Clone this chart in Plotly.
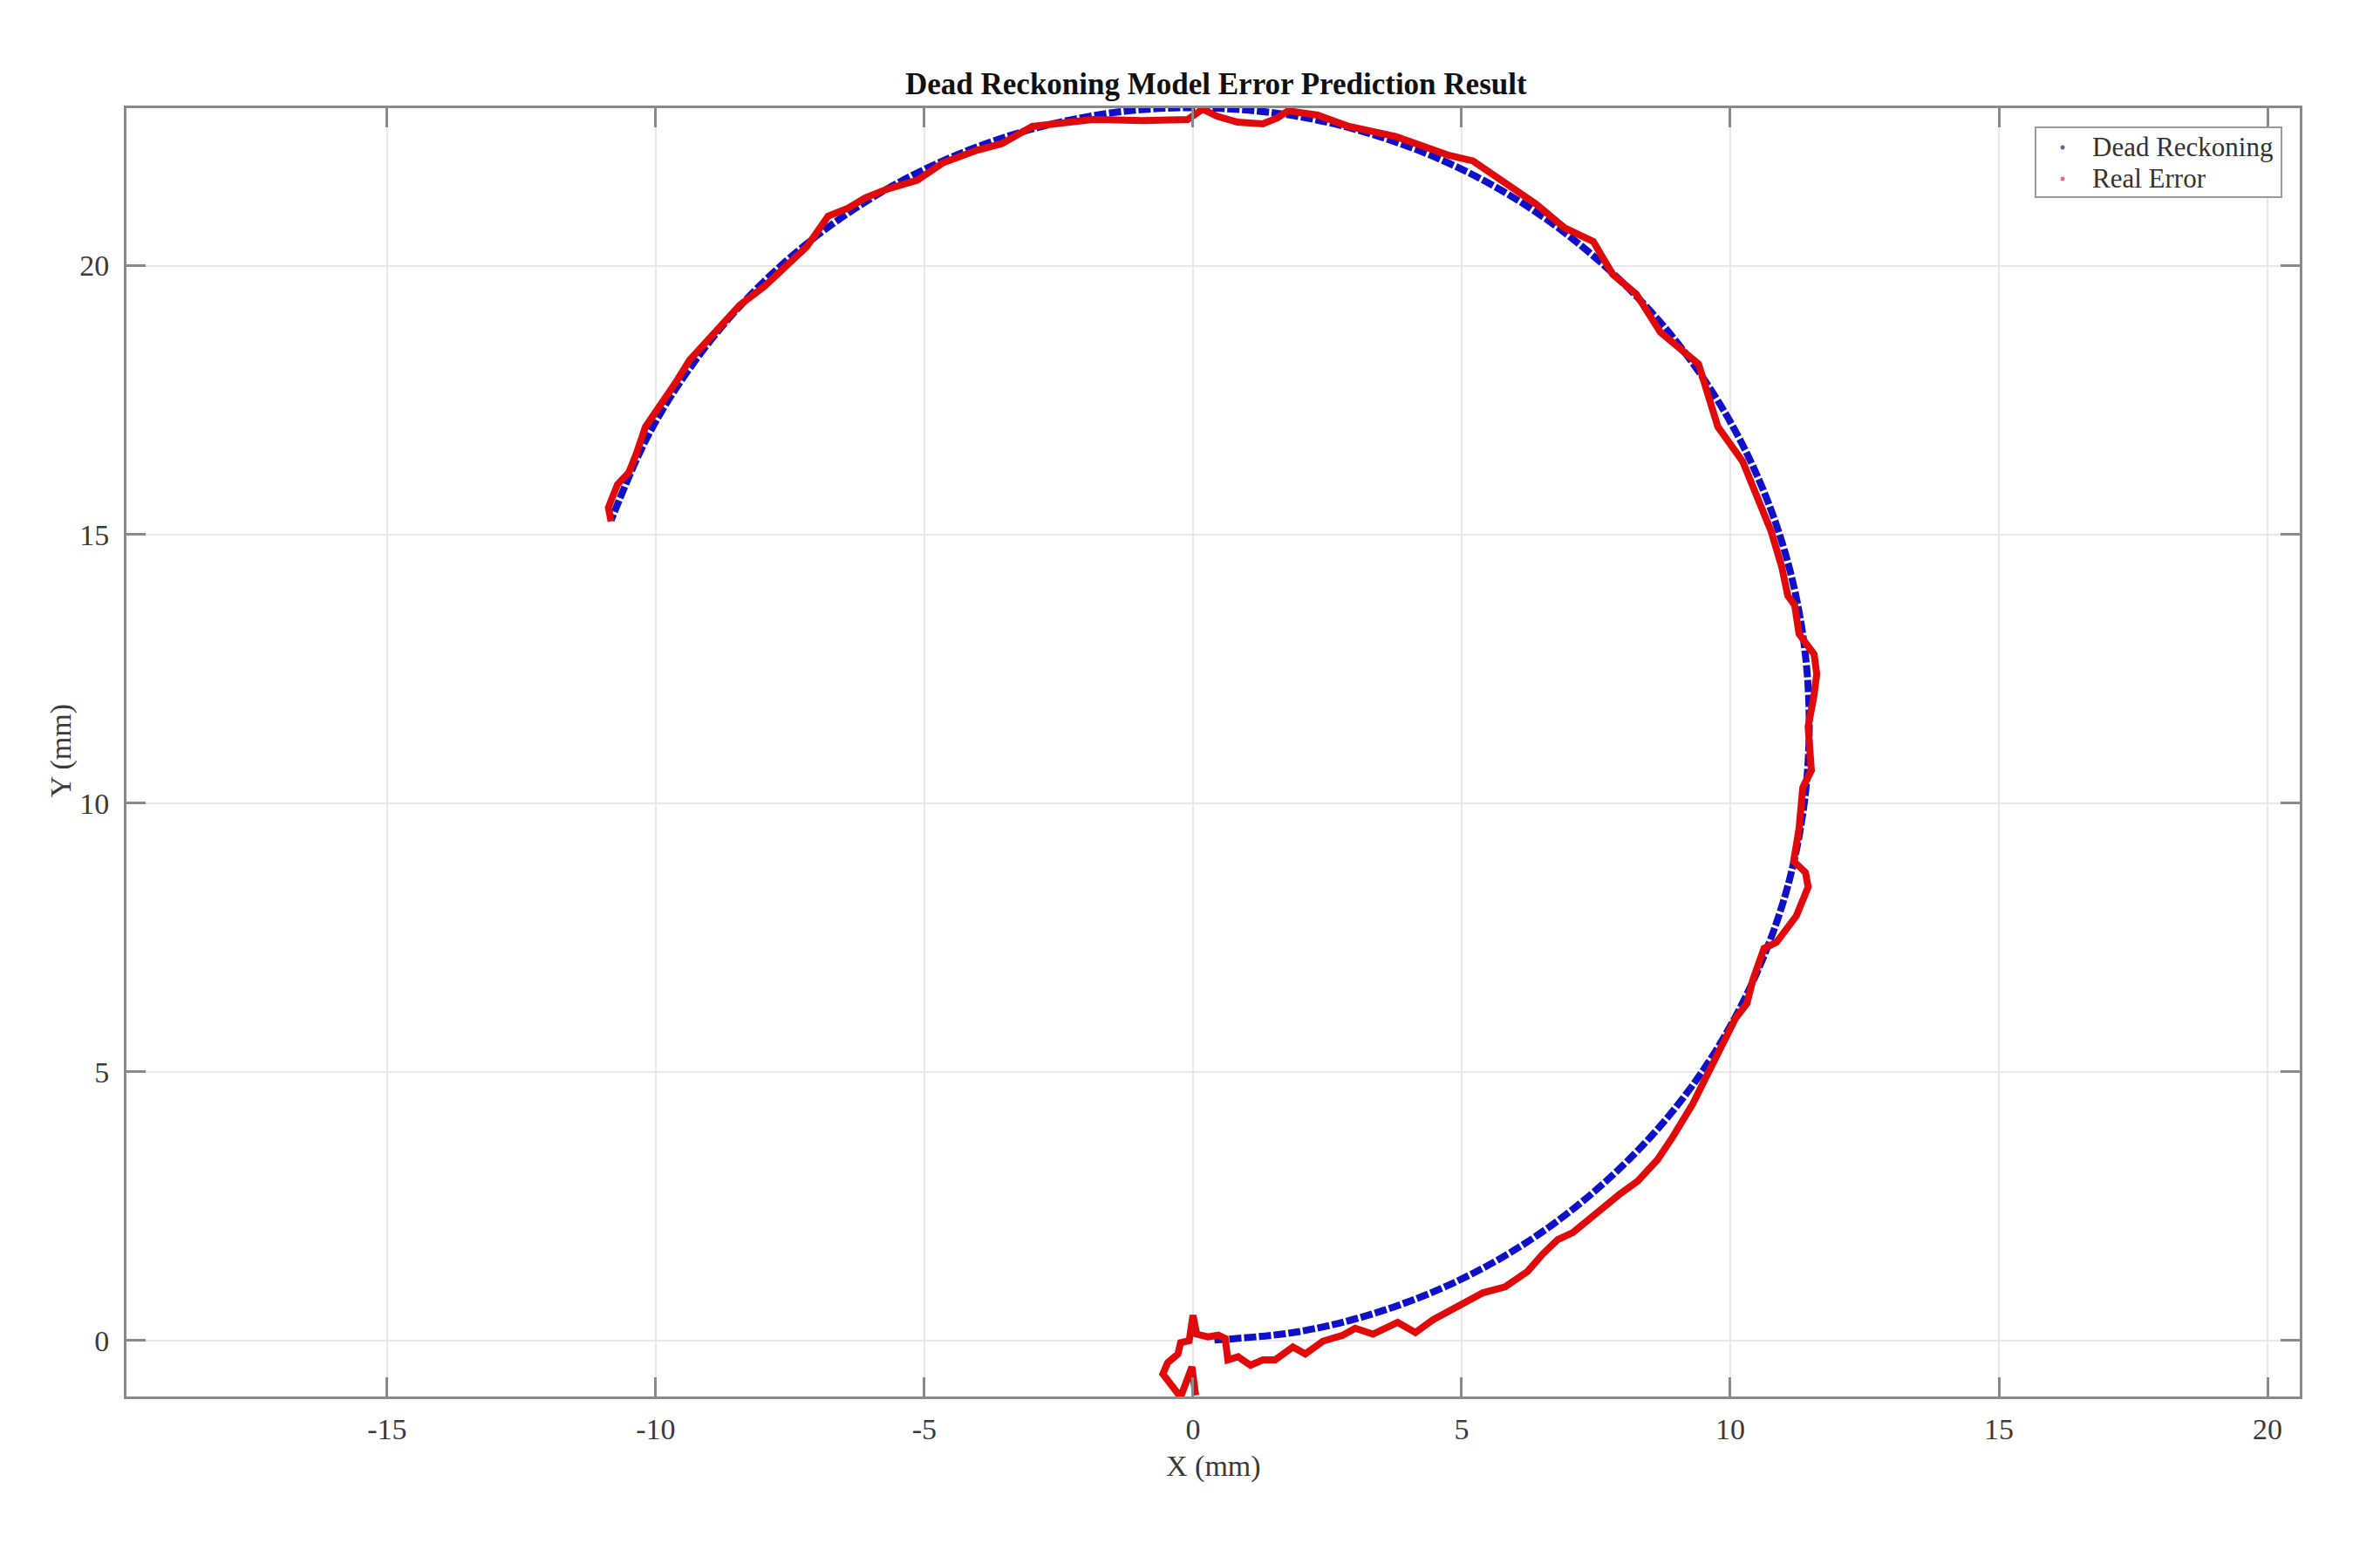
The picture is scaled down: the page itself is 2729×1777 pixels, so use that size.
import plotly.graph_objects as go

# Dead reckoning trajectory
dr_x = [0.40, 1.99, 3.54, 5.03, 6.41, 7.67, 8.79, 9.73, 10.48, 11.03, 11.36, 11.47,
        11.36, 11.03, 10.48, 9.73, 8.79, 7.67, 6.41, 5.03, 3.54, 1.99, 0.40, -1.20,
        -2.77, -4.30, -5.74, -7.06, -8.25, -9.28, -10.13, -10.83]
dr_y = [0.01, 0.17, 0.56, 1.16, 1.96, 2.95, 4.10, 5.39, 6.81, 8.31, 9.87, 11.47,
        13.07, 14.63, 16.14, 17.55, 18.84, 19.99, 20.98, 21.78, 22.38, 22.77, 22.93, 22.88,
        22.60, 22.10, 21.40, 20.51, 19.44, 18.21, 16.86, 15.26]

# Real error trajectory
real_x = [0.05, -0.02, -0.23, -0.56, -0.47, -0.28, -0.23, -0.07, 0.00, 0.07, 0.28, 0.47,
          0.60, 0.65, 0.84, 1.07, 1.30, 1.53, 1.86, 2.09, 2.42, 2.79, 3.02, 3.35, 3.81,
          4.14, 4.47, 4.93, 5.40, 5.81, 6.23, 6.51, 6.79, 7.07, 7.35, 7.63, 7.95, 8.28,
          8.65, 8.93, 9.30, 9.60, 9.90, 10.10, 10.31, 10.42, 10.63, 10.86, 11.23, 11.45,
          11.40, 11.18, 11.28, 11.35, 11.51, 11.45, 11.56, 11.61, 11.56, 11.28, 11.20,
          11.07, 10.96, 10.76, 10.23, 9.77, 9.41, 8.70, 8.25, 7.81, 7.45, 6.92, 6.38,
          5.21, 4.77, 3.78, 2.87, 2.32, 1.77, 1.57, 1.30, 0.83, 0.45, 0.18, -0.10, -0.94,
          -1.87, -2.52, -2.99, -3.56, -4.01, -4.66, -5.13, -5.70, -6.10, -6.42, -6.79,
          -7.19, -7.56, -7.97, -8.44, -8.90, -9.37, -9.63, -9.94, -10.19, -10.36, -10.50,
          -10.71, -10.88, -10.83]
real_y = [-1.02, -0.49, -1.05, -0.62, -0.41, -0.25, -0.04, 0.00, 0.47, 0.12, 0.07, 0.10,
          0.04, -0.36, -0.30, -0.46, -0.36, -0.36, -0.12, -0.25, -0.01, 0.10, 0.23, 0.12,
          0.34, 0.15, 0.39, 0.63, 0.89, 1.00, 1.29, 1.61, 1.88, 2.01, 2.25, 2.49, 2.73,
          2.97, 3.37, 3.79, 4.40, 5.00, 5.60, 6.00, 6.27, 6.71, 7.30, 7.41, 7.90, 8.44,
          8.71, 8.92, 9.52, 10.29, 10.61, 11.42, 12.01, 12.40, 12.77, 13.15, 13.68,
          13.86, 14.39, 15.06, 16.36, 17.00, 18.17, 18.76, 19.47, 19.84, 20.45, 20.70,
          21.15, 21.95, 22.05, 22.40, 22.60, 22.80, 22.88, 22.75, 22.64, 22.67, 22.78,
          22.91, 22.72, 22.70, 22.72, 22.64, 22.59, 22.27, 22.15, 21.91, 21.59, 21.42,
          21.26, 21.07, 20.92, 20.35, 20.02, 19.62, 19.26, 18.76, 18.24, 17.82, 17.38,
          17.00, 16.50, 16.15, 15.93, 15.50, 15.24]

x_ticks = [-15, -10, -5, 0, 5, 10, 15, 20]
x_tick_labels = ["-15", "-10", "-5", "0", "5", "10", "15", "20"]
y_ticks = [0, 5, 10, 15, 20]
y_tick_labels = ["0", "5", "10", "15", "20"]

series_names = ["Dead Reckoning", "Real Error"]

FONT = "Liberation Serif"
AXIS_GRAY = "#8a8a8a"
BLUE = "#1010c8"
RED = "#e00a0a"

fig = go.Figure()

fig.add_trace(go.Scatter(
    x=dr_x, y=dr_y, mode="lines", name=series_names[0],
    line=dict(color=BLUE, width=8, dash="14px,3px", shape="spline"),
    showlegend=False, hoverinfo="skip",
))
fig.add_trace(go.Scatter(
    x=real_x, y=real_y, mode="lines", name=series_names[1],
    line=dict(color=RED, width=8),
    showlegend=False, hoverinfo="skip",
))

# MATLAB-style legend box, drawn by hand so the rows sit tight
leg_left, leg_right, leg_top, leg_bottom = 0.8784, 0.9916, 0.9851, 0.9309
row_y = [0.9696, 0.9452]
dot_colors = ["#5a6a90", "#e07080"]
shapes = [dict(type="rect", xref="paper", yref="paper", x0=leg_left, x1=leg_right,
               y0=leg_bottom, y1=leg_top, line=dict(color="#9a9a9a", width=2),
               fillcolor="white", layer="above")]
annotations = []
for name, yy, col in zip(series_names, row_y, dot_colors):
    shapes.append(dict(type="circle", xref="paper", yref="paper",
                       x0=0.8899, x1=0.8919, y0=yy - 0.0017, y1=yy + 0.0017,
                       line=dict(width=0), fillcolor=col, layer="above"))
    annotations.append(dict(text=name, xref="paper", yref="paper", x=0.9037, y=yy,
                            xanchor="left", yanchor="middle", showarrow=False,
                            font=dict(family=FONT, size=31, color="#333333")))

annotations += [
    dict(text="X (mm)", xref="paper", yref="paper", x=0.5004, y=-0.054,
         xanchor="center", yanchor="middle", showarrow=False,
         font=dict(family=FONT, size=34, color="#3a3a3a")),
    dict(text="Y (mm)", xref="paper", yref="paper", x=-0.030, y=0.501,
         xanchor="center", yanchor="middle", showarrow=False, textangle=-90,
         font=dict(family=FONT, size=34, color="#3a3a3a")),
]

axis_common = dict(
    showgrid=True, gridcolor="#e8e8e8", gridwidth=2,
    zeroline=False, showline=True, linecolor=AXIS_GRAY, linewidth=3, mirror="ticks",
    ticks="inside", ticklen=22, tickwidth=3, tickcolor=AXIS_GRAY,
    tickfont=dict(family=FONT, size=34, color="#3a3a3a"),
)

fig.update_layout(
    width=2729, height=1777,
    margin=dict(l=137, r=100, t=116, b=184),
    paper_bgcolor="white", plot_bgcolor="white",
    showlegend=False,
    title=dict(text="<b>Dead Reckoning Model Error Prediction Result</b>",
               x=0.508, xanchor="center", y=1 - 88 / 1777, yanchor="middle",
               font=dict(family=FONT, size=35, color="#111111")),
    xaxis=dict(range=[-19.85, 20.6], tickvals=x_ticks, ticktext=x_tick_labels,
               ticklabelstandoff=5, **axis_common),
    yaxis=dict(range=[-1.04, 22.93], tickvals=y_ticks, ticktext=y_tick_labels,
               ticklabelstandoff=10, **axis_common),
    shapes=shapes,
    annotations=annotations,
)

fig.write_html("out.html")
